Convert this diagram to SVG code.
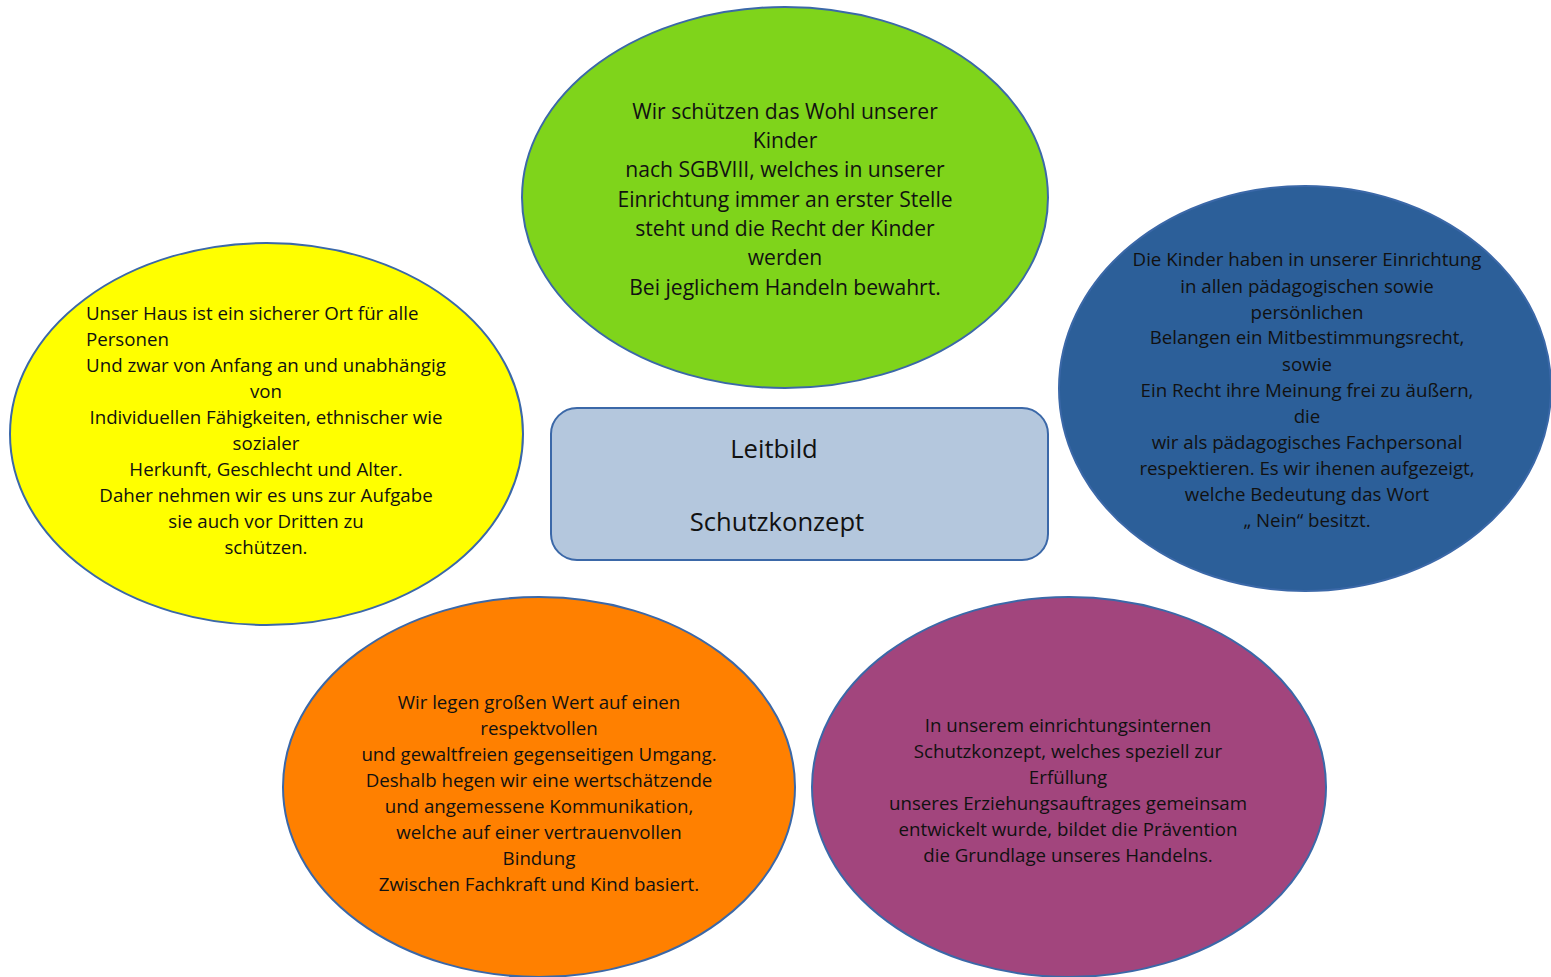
<svg xmlns="http://www.w3.org/2000/svg" width="1551" height="977" viewBox="0 0 1551 977">
<style>
.n{stroke:#3B68A8;stroke-width:2}
.t{font-family:"Open Sans","Liberation Sans",Arial,sans-serif;font-size:18.7px;fill:#111;text-anchor:middle}
.g{font-size:21.1px}
.c{font-size:25.6px}
.l{text-anchor:start}
</style>
<rect width="1551" height="977" fill="#fff"/>
<g id="connectors"></g>
<g id="n-green">
<ellipse class="n" cx="785" cy="197.5" rx="263" ry="190.5" fill="#7FD41B"/>
<text class="t g" x="785"><tspan x="785" y="119">Wir schützen das Wohl unserer</tspan><tspan x="785" y="148">Kinder</tspan><tspan x="785" y="177">nach SGBVIII, welches in unserer</tspan><tspan x="785" y="207">Einrichtung immer an erster Stelle</tspan><tspan x="785" y="236">steht und die Recht der Kinder</tspan><tspan x="785" y="265">werden</tspan><tspan x="785" y="295">Bei jeglichem Handeln bewahrt.</tspan></text>
</g>
<g id="n-yellow">
<ellipse class="n" cx="266.5" cy="434" rx="256.5" ry="191" fill="#FFFF00"/>
<text class="t"><tspan class="l" x="86" y="320">Unser Haus ist ein sicherer Ort für alle</tspan><tspan class="l" x="86" y="346">Personen</tspan><tspan x="266" y="372">Und zwar von Anfang an und unabhängig</tspan><tspan x="266" y="398">von</tspan><tspan x="266" y="424">Individuellen Fähigkeiten, ethnischer wie</tspan><tspan x="266" y="450">sozialer</tspan><tspan x="266" y="476">Herkunft, Geschlecht und Alter.</tspan><tspan x="266" y="502">Daher nehmen wir es uns zur Aufgabe</tspan><tspan x="266" y="528">sie auch vor Dritten zu</tspan><tspan x="266" y="554">schützen.</tspan></text>
</g>
<g id="n-blue">
<ellipse class="n" cx="1305" cy="388.5" rx="246" ry="202.5" fill="#2C5F99"/>
<text class="t"><tspan x="1307" y="266">Die Kinder haben in unserer Einrichtung</tspan><tspan x="1307" y="293">in allen pädagogischen sowie</tspan><tspan x="1307" y="319">persönlichen</tspan><tspan x="1307" y="344">Belangen ein Mitbestimmungsrecht,</tspan><tspan x="1307" y="371">sowie</tspan><tspan x="1307" y="397">Ein Recht ihre Meinung frei zu äußern,</tspan><tspan x="1307" y="423">die</tspan><tspan x="1307" y="449">wir als pädagogisches Fachpersonal</tspan><tspan x="1307" y="475">respektieren. Es wir ihenen aufgezeigt,</tspan><tspan x="1307" y="501">welche Bedeutung das Wort</tspan><tspan x="1307" y="527">„ Nein“ besitzt.</tspan></text>
</g>
<g id="n-center">
<rect class="n" x="551" y="408" width="497" height="152" rx="26" fill="#B4C7DD"/>
<text class="t c"><tspan x="774" y="458">Leitbild</tspan><tspan x="777" y="531">Schutzkonzept</tspan></text>
</g>
<g id="n-orange">
<ellipse class="n" cx="539" cy="787" rx="256" ry="190" fill="#FF8000"/>
<text class="t"><tspan x="539" y="709">Wir legen großen Wert auf einen</tspan><tspan x="539" y="735">respektvollen</tspan><tspan x="539" y="761">und gewaltfreien gegenseitigen Umgang.</tspan><tspan x="539" y="787">Deshalb hegen wir eine wertschätzende</tspan><tspan x="539" y="813">und angemessene Kommunikation,</tspan><tspan x="539" y="839">welche auf einer vertrauenvollen</tspan><tspan x="539" y="865">Bindung</tspan><tspan x="539" y="891">Zwischen Fachkraft und Kind basiert.</tspan></text>
</g>
<g id="n-purple">
<ellipse class="n" cx="1069" cy="787" rx="257" ry="190" fill="#A2457D"/>
<text class="t"><tspan x="1068" y="732">In unserem einrichtungsinternen</tspan><tspan x="1068" y="758">Schutzkonzept, welches speziell zur</tspan><tspan x="1068" y="784">Erfüllung</tspan><tspan x="1068" y="810">unseres Erziehungsauftrages gemeinsam</tspan><tspan x="1068" y="836">entwickelt wurde, bildet die Prävention</tspan><tspan x="1068" y="862">die Grundlage unseres Handelns.</tspan></text>
</g>
</svg>
